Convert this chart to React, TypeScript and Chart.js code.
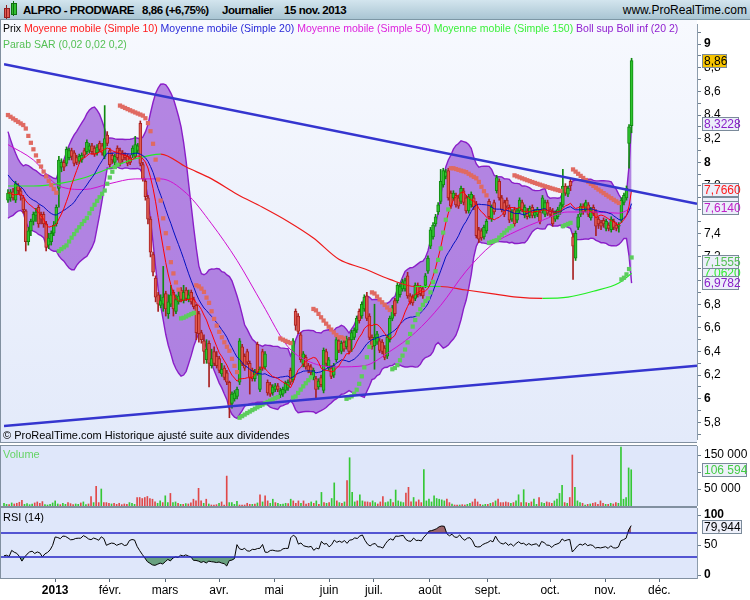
import React, { useEffect, useRef } from "react";
import { Chart, registerables } from "chart.js";

Chart.register(...registerables);

// ALPRO - PRODWARE, daily bars from early December 2012 to 15 Nov 2013
const opens = [
  7.68, 7.70, 7.75, 7.68, 7.80, 7.76, 7.70, 7.59, 7.33, 7.42,
  7.50, 7.55, 7.62, 7.56, 7.56, 7.48, 7.30, 7.33, 7.40, 7.48,
  7.78, 7.96, 8.00, 7.99, 8.04, 8.10, 8.08, 8.04, 8.01, 8.02,
  8.10, 8.09, 8.10, 8.14, 8.12, 8.08, 8.16, 8.14, 8.05, 8.23,
  8.10, 8.06, 8.00, 8.12, 8.10, 8.08, 8.06, 8.05, 8.04, 8.06,
  8.05, 8.10, 8.33, 7.98, 7.84, 7.70, 7.52, 7.22, 7.02, 6.88,
  6.79, 6.80, 6.89, 6.72, 6.80, 6.90, 6.74, 6.82, 6.92, 6.83,
  6.92, 6.84, 6.90, 6.84, 6.79, 6.72, 6.56, 6.49, 6.33, 6.47,
  6.28, 6.40, 6.36, 6.34, 6.21, 6.26, 6.22, 6.14, 5.96, 6.00,
  6.02, 6.14, 6.44, 6.36, 6.40, 6.30, 6.24, 6.17, 6.46, 6.08,
  6.40, 6.27, 6.14, 6.12, 6.05, 6.08, 6.11, 6.03, 6.04, 6.07,
  6.09, 6.24, 6.16, 6.74, 6.70, 6.54, 6.29, 6.35, 6.28, 6.27,
  6.18, 6.17, 6.10, 6.18, 6.07, 6.40, 6.26, 6.26, 6.20, 6.33,
  6.49, 6.40, 6.48, 6.44, 6.50, 6.50, 6.52, 6.58, 6.74, 6.70,
  6.76, 6.87, 6.70, 6.52, 6.45, 6.48, 6.49, 6.48, 6.43, 6.36,
  6.50, 6.68, 6.83, 6.83, 6.88, 6.93, 6.93, 7.04, 6.87, 6.86,
  6.85, 6.96, 6.94, 6.93, 6.96, 7.08, 7.29, 7.37, 7.48, 7.58,
  7.67, 7.81, 7.88, 7.93, 7.74, 7.70, 7.72, 7.70, 7.67, 7.76,
  7.70, 7.59, 7.64, 7.70, 7.65, 7.43, 7.42, 7.37, 7.42, 7.67,
  7.52, 7.66, 7.76, 7.84, 7.70, 7.66, 7.68, 7.62, 7.52, 7.60,
  7.51, 7.59, 7.66, 7.55, 7.59, 7.55, 7.62, 7.55, 7.56, 7.58,
  7.59, 7.56, 7.66, 7.60, 7.59, 7.52, 7.54, 7.58, 7.64, 7.80,
  7.73, 7.84, 7.37, 7.19, 7.45, 7.56, 7.63, 7.60, 7.64, 7.53,
  7.62, 7.58, 7.52, 7.49, 7.51, 7.44, 7.47, 7.43, 7.50, 7.47,
  7.46, 7.51, 7.66, 7.70, 8.16, 8.31,
];
const highs = [
  7.77, 7.77, 7.78, 7.84, 7.82, 7.78, 7.72, 7.60, 7.45, 7.52,
  7.58, 7.61, 7.64, 7.58, 7.58, 7.50, 7.40, 7.42, 7.50, 7.64,
  8.05, 8.03, 8.02, 8.13, 8.12, 8.12, 8.10, 8.06, 8.07, 8.08,
  8.12, 8.19, 8.16, 8.16, 8.14, 8.15, 8.18, 8.16, 8.48, 8.26,
  8.12, 8.08, 8.07, 8.14, 8.12, 8.10, 8.08, 8.07, 8.06, 8.14,
  8.22, 8.16, 8.35, 8.00, 7.86, 7.72, 7.54, 7.24, 7.04, 6.90,
  6.88, 7.12, 6.91, 6.88, 6.96, 6.92, 6.88, 6.92, 6.94, 6.96,
  6.94, 6.92, 6.92, 6.86, 6.80, 6.74, 6.58, 6.54, 6.50, 6.49,
  6.42, 6.44, 6.40, 6.36, 6.30, 6.28, 6.24, 6.15, 6.06, 6.07,
  6.10, 6.51, 6.46, 6.38, 6.42, 6.32, 6.26, 6.25, 6.48, 6.27,
  6.42, 6.40, 6.16, 6.14, 6.12, 6.13, 6.13, 6.09, 6.10, 6.15,
  6.16, 6.26, 6.51, 6.76, 6.72, 6.56, 6.40, 6.37, 6.30, 6.29,
  6.26, 6.19, 6.17, 6.20, 6.43, 6.42, 6.35, 6.28, 6.30, 6.52,
  6.51, 6.49, 6.50, 6.53, 6.52, 6.58, 6.60, 6.70, 6.76, 6.82,
  6.88, 6.90, 6.72, 6.54, 6.80, 6.57, 6.51, 6.50, 6.45, 6.54,
  6.70, 6.79, 6.85, 6.98, 6.97, 7.01, 7.02, 7.07, 6.89, 6.88,
  6.98, 6.98, 6.96, 6.95, 7.06, 7.21, 7.45, 7.49, 7.56, 7.66,
  7.94, 7.95, 7.94, 7.95, 7.76, 7.76, 7.74, 7.72, 7.80, 7.78,
  7.72, 7.73, 7.75, 7.72, 7.67, 7.45, 7.44, 7.47, 7.52, 7.69,
  7.64, 7.68, 7.89, 7.86, 7.72, 7.68, 7.70, 7.64, 7.60, 7.62,
  7.61, 7.70, 7.68, 7.64, 7.61, 7.63, 7.64, 7.60, 7.62, 7.60,
  7.72, 7.68, 7.68, 7.62, 7.61, 7.59, 7.62, 7.66, 7.94, 7.82,
  7.80, 7.86, 7.40, 7.42, 7.56, 7.65, 7.65, 7.68, 7.66, 7.62,
  7.64, 7.60, 7.54, 7.51, 7.53, 7.52, 7.49, 7.54, 7.52, 7.49,
  7.49, 7.70, 7.74, 7.80, 8.32, 8.88,
];
const lows = [
  7.66, 7.67, 7.68, 7.66, 7.73, 7.68, 7.57, 7.25, 7.30, 7.38,
  7.47, 7.50, 7.45, 7.48, 7.45, 7.25, 7.27, 7.30, 7.38, 7.46,
  7.62, 7.92, 7.93, 7.97, 8.02, 8.02, 7.97, 7.98, 7.99, 8.00,
  8.04, 8.07, 8.08, 8.07, 8.05, 8.06, 8.09, 8.06, 8.03, 8.14,
  7.96, 7.99, 7.98, 8.02, 7.97, 8.00, 8.02, 7.97, 7.98, 8.04,
  8.03, 8.08, 7.97, 7.84, 7.68, 7.48, 7.20, 7.04, 6.82, 6.74,
  6.77, 6.74, 6.70, 6.68, 6.78, 6.70, 6.72, 6.80, 6.82, 6.81,
  6.83, 6.82, 6.80, 6.76, 6.50, 6.48, 6.47, 6.30, 6.30, 6.10,
  6.26, 6.28, 6.26, 6.22, 6.19, 6.16, 6.12, 5.84, 5.92, 5.98,
  6.00, 6.12, 6.28, 6.24, 6.29, 6.04, 6.15, 6.15, 6.20, 6.06,
  6.24, 6.25, 6.03, 6.02, 6.03, 6.06, 6.06, 6.01, 6.02, 6.05,
  6.07, 6.12, 6.14, 6.58, 6.55, 6.31, 6.27, 6.25, 6.22, 6.20,
  6.16, 6.00, 6.08, 6.10, 6.05, 6.28, 6.24, 6.17, 6.18, 6.31,
  6.39, 6.38, 6.40, 6.42, 6.38, 6.40, 6.50, 6.56, 6.64, 6.68,
  6.74, 6.66, 6.50, 6.42, 6.25, 6.46, 6.39, 6.38, 6.33, 6.34,
  6.48, 6.66, 6.70, 6.81, 6.86, 6.91, 6.91, 6.85, 6.80, 6.79,
  6.83, 6.86, 6.87, 6.85, 6.94, 7.06, 7.27, 7.35, 7.46, 7.56,
  7.65, 7.79, 7.86, 7.68, 7.61, 7.68, 7.62, 7.61, 7.65, 7.64,
  7.57, 7.57, 7.62, 7.60, 7.36, 7.32, 7.34, 7.35, 7.40, 7.52,
  7.50, 7.56, 7.74, 7.68, 7.58, 7.54, 7.61, 7.49, 7.50, 7.46,
  7.49, 7.57, 7.58, 7.53, 7.52, 7.53, 7.53, 7.53, 7.54, 7.48,
  7.57, 7.54, 7.55, 7.54, 7.46, 7.50, 7.52, 7.56, 7.62, 7.72,
  7.71, 7.76, 7.01, 7.17, 7.43, 7.54, 7.56, 7.58, 7.54, 7.51,
  7.55, 7.38, 7.44, 7.43, 7.45, 7.42, 7.42, 7.41, 7.43, 7.42,
  7.41, 7.49, 7.64, 7.68, 7.95, 8.25,
];
const closes = [
  7.74, 7.75, 7.70, 7.82, 7.76, 7.72, 7.60, 7.33, 7.42, 7.50,
  7.56, 7.58, 7.48, 7.52, 7.48, 7.28, 7.36, 7.40, 7.47, 7.62,
  8.02, 8.00, 7.96, 8.11, 8.10, 8.05, 7.99, 8.00, 8.05, 8.06,
  8.06, 8.17, 8.14, 8.09, 8.07, 8.13, 8.11, 8.08, 8.20, 8.16,
  7.98, 8.02, 8.05, 8.04, 7.99, 8.02, 8.04, 7.99, 8.00, 8.12,
  8.15, 8.14, 7.99, 7.86, 7.71, 7.52, 7.24, 7.07, 6.86, 6.80,
  6.83, 6.86, 6.76, 6.82, 6.88, 6.76, 6.84, 6.87, 6.84, 6.90,
  6.85, 6.88, 6.82, 6.78, 6.56, 6.55, 6.50, 6.40, 6.42, 6.30,
  6.34, 6.30, 6.28, 6.24, 6.25, 6.18, 6.14, 5.93, 6.04, 6.05,
  6.08, 6.49, 6.30, 6.26, 6.31, 6.18, 6.17, 6.23, 6.22, 6.25,
  6.26, 6.38, 6.05, 6.04, 6.10, 6.11, 6.08, 6.07, 6.08, 6.13,
  6.14, 6.14, 6.49, 6.62, 6.57, 6.33, 6.38, 6.27, 6.24, 6.22,
  6.24, 6.08, 6.15, 6.12, 6.41, 6.30, 6.33, 6.19, 6.28, 6.50,
  6.41, 6.47, 6.42, 6.51, 6.40, 6.56, 6.58, 6.68, 6.66, 6.80,
  6.86, 6.68, 6.52, 6.44, 6.52, 6.55, 6.41, 6.40, 6.35, 6.52,
  6.68, 6.77, 6.72, 6.96, 6.95, 6.99, 7.00, 6.87, 6.82, 6.81,
  6.96, 6.88, 6.89, 6.87, 7.04, 7.19, 7.43, 7.47, 7.54, 7.64,
  7.84, 7.93, 7.92, 7.70, 7.63, 7.74, 7.64, 7.63, 7.78, 7.66,
  7.59, 7.71, 7.73, 7.62, 7.38, 7.35, 7.36, 7.45, 7.50, 7.54,
  7.62, 7.58, 7.87, 7.70, 7.60, 7.56, 7.63, 7.51, 7.58, 7.48,
  7.59, 7.68, 7.60, 7.62, 7.54, 7.61, 7.55, 7.58, 7.60, 7.50,
  7.70, 7.66, 7.57, 7.56, 7.48, 7.57, 7.60, 7.64, 7.80, 7.74,
  7.78, 7.80, 7.29, 7.40, 7.54, 7.63, 7.58, 7.66, 7.56, 7.60,
  7.57, 7.46, 7.48, 7.46, 7.48, 7.50, 7.44, 7.52, 7.45, 7.44,
  7.47, 7.68, 7.72, 7.78, 8.30, 8.86,
];
const volumes = [
  8000, 5000, 4000, 9000, 6000, 8000, 11000, 17000, 5000, 7000,
  4000, 6000, 9000, 12000, 8000, 13000, 4000, 3000, 5000, 9000,
  15000, 6000, 4000, 8000, 5000, 10000, 7000, 4000, 6000, 5000,
  9000, 12000, 4000, 6000, 28000, 10000, 58000, 10000, 50000, 10000,
  10000, 8000, 6000, 8000, 5000, 8000, 4000, 6000, 5000, 10000,
  8000, 5000, 25000, 25000, 22000, 25000, 28000, 22000, 20000, 12000,
  8000, 15000, 10000, 30000, 10000, 37000, 10000, 12000, 8000, 5000,
  5000, 7000, 6000, 9000, 20000, 15000, 52000, 15000, 8000, 20000,
  6000, 3000, 3000, 4000, 8000, 12000, 3000, 88000, 10000, 10000,
  5000, 14000, 3000, 3000, 3000, 8000, 5000, 5000, 6000, 9000,
  33000, 12000, 30000, 15000, 8000, 20000, 10000, 8000, 5000, 6000,
  8000, 7000, 20000, 15000, 8000, 15000, 8000, 15000, 6000, 8000,
  12000, 8000, 15000, 5000, 40000, 10000, 8000, 10000, 22000, 68000,
  15000, 10000, 8000, 12000, 75000, 142000, 40000, 12000, 15000, 33000,
  15000, 12000, 12000, 10000, 15000, 10000, 6000, 12000, 28000, 10000,
  12000, 20000, 10000, 47000, 15000, 12000, 10000, 38000, 55000, 12000,
  25000, 12000, 18000, 10000, 107000, 15000, 20000, 12000, 30000, 22000,
  20000, 18000, 15000, 20000, 10000, 6000, 3000, 3000, 3000, 4000,
  3000, 5000, 8000, 12000, 20000, 12000, 5000, 3000, 5000, 5000,
  8000, 10000, 15000, 20000, 10000, 10000, 12000, 10000, 8000, 10000,
  15000, 33000, 10000, 48000, 10000, 8000, 12000, 20000, 5000, 25000,
  10000, 8000, 12000, 10000, 8000, 15000, 20000, 37000, 61000, 10000,
  8000, 25000, 150000, 55000, 15000, 10000, 8000, 3000, 5000, 6000,
  8000, 10000, 5000, 15000, 8000, 5000, 5000, 8000, 6000, 10000,
  8000, 173000, 20000, 25000, 112000, 106594,
];
// closes of the sessions preceding the first bar, used to seed SMA 10/20, Bollinger and RSI
const priorCloses = [
  8.20, 8.28, 8.22, 8.15, 8.10, 8.02, 7.98, 8.04, 7.94, 7.88,
  7.84, 7.78, 7.84, 7.80, 7.74, 7.70, 7.76, 7.72, 7.68, 7.66,
];

// long moving averages, sampled every ten sessions
const longMaIndex = [0, 10, 20, 30, 40, 50, 60, 70, 80, 90, 100, 110, 120, 130, 140, 150, 160, 170, 180, 190, 200, 210, 220, 230, 240, 245];
const sma50 = [8.15, 8.02, 7.80, 7.77, 7.82, 7.86, 7.86, 7.74, 7.48, 7.17, 6.80, 6.44, 6.30, 6.27, 6.28, 6.40, 6.56, 6.79, 7.08, 7.30, 7.42, 7.51, 7.58, 7.58, 7.57, 7.614];
const sma150 = [7.80, 7.80, 7.82, 7.87, 7.95, 8.03, 8.07, 7.96, 7.86, 7.73, 7.62, 7.50, 7.36, 7.18, 7.10, 7.01, 6.95, 6.95, 6.92, 6.89, 6.86, 6.85, 6.86, 6.91, 6.98, 7.062];

// parabolic SAR starting level (falling trend at the first bar)
const sarSeed = 8.4;

// hand-drawn trend lines: price at the left and right edges of the plot
const trendTop = [8.83, 7.65];
const trendBottom = [5.77, 6.28];

// month ticks (session index) and labels
const monthTickIndex = [20, 41.4, 62.9, 84, 105.5, 127, 144.5, 166.4, 189, 213.3, 234.8, 256];
const monthTickLabels = ["2013", "févr.", "mars", "avr.", "mai", "juin", "juil.", "août", "sept.", "oct.", "nov.", "déc."];

// last values shown in the axis tags
const lastBollUp = 8.3228;
const lastSma10 = 7.766;
const lastSma20 = 7.6505;
const lastSma50 = 7.614;
const lastSar = 7.1555;
const lastSma150 = 7.062;
const lastBollDown = 6.9782;
const lastRsi = 79.944;

const FONT = '"Liberation Sans", Arial, Helvetica, sans-serif';
const X_MIN = -1.56;
const X_MAX = 270.7;
const AXIS_W = 53;

const fr = (v: number, d: number) => v.toFixed(d).replace(".", ",");
const spaced = (v: number) => String(Math.round(v)).replace(/\B(?=(\d{3})+(?!\d))/g, " ");

const idx = closes.map((_, i) => i);
const allCloses = [...priorCloses, ...closes];
const P = priorCloses.length;

function sma(n: number) {
  return idx.map((i) => {
    let s = 0;
    for (let k = i + P - n + 1; k <= i + P; k++) s += allCloses[k];
    return s / n;
  });
}
const sma10 = sma(10);
const sma20 = sma(20);
const bollDev = idx.map((i) => {
  const m = sma20[i];
  let v = 0;
  for (let k = i + P - 19; k <= i + P; k++) v += (allCloses[k] - m) ** 2;
  return Math.sqrt(v / 20);
});
const bollUp = idx.map((i) => sma20[i] + 2 * bollDev[i]);
const bollDown = idx.map((i) => sma20[i] - 2 * bollDev[i]);

function wilderRsi(period: number) {
  const out: number[] = new Array(allCloses.length).fill(NaN);
  let g = 0;
  let l = 0;
  for (let k = 1; k <= period; k++) {
    const d = allCloses[k] - allCloses[k - 1];
    if (d > 0) g += d; else l -= d;
  }
  g /= period;
  l /= period;
  out[period] = 100 - 100 / (1 + g / (l || 1e-9));
  for (let k = period + 1; k < allCloses.length; k++) {
    const d = allCloses[k] - allCloses[k - 1];
    g = (g * (period - 1) + Math.max(d, 0)) / period;
    l = (l * (period - 1) + Math.max(-d, 0)) / period;
    out[k] = 100 - 100 / (1 + g / (l || 1e-9));
  }
  return idx.map((i) => out[i + P]);
}
const rsi14 = wilderRsi(14);

function parabolicSar(start: number, step: number, maxAf: number) {
  const out: { v: number; up: boolean }[] = [];
  let up = false;
  let sar = sarSeed;
  let ep = lows[0];
  let af = start;
  out.push({ v: sar, up });
  for (let i = 1; i < closes.length; i++) {
    sar = sar + af * (ep - sar);
    if (up) {
      sar = Math.min(sar, lows[i - 1], lows[Math.max(0, i - 2)]);
      if (lows[i] < sar) {
        up = false; sar = ep; ep = lows[i]; af = start;
      } else if (highs[i] > ep) {
        ep = highs[i]; af = Math.min(af + step, maxAf);
      }
    } else {
      sar = Math.max(sar, highs[i - 1], highs[Math.max(0, i - 2)]);
      if (highs[i] > sar) {
        up = true; sar = ep; ep = highs[i]; af = start;
      } else if (lows[i] < ep) {
        ep = lows[i]; af = Math.min(af + step, maxAf);
      }
    }
    out.push({ v: sar, up });
  }
  return out;
}
const sar = parabolicSar(0.02, 0.02, 0.2);

const rising = idx.map((i) => closes[i] >= opens[i]);
const GREEN_BODY = "#2fc42f";
const GREEN_EDGE = "#108a10";
const RED_BODY = "#e05a50";
const RED_EDGE = "#a82020";

type Tag = { value: number; text: string; color: string; bg: string; w: number };

function tagPlugin(tags: Tag[]) {
  return {
    id: "tags",
    afterDraw(chart: any) {
      const ctx = chart.ctx as CanvasRenderingContext2D;
      const ys = chart.scales.y;
      const x0 = chart.chartArea.right + 5;
      ctx.save();
      ctx.font = `12px ${FONT}`;
      ctx.textBaseline = "middle";
      for (const t of tags) {
        const py = Math.round(ys.getPixelForValue(t.value));
        ctx.fillStyle = t.bg;
        ctx.fillRect(x0, py - 7, t.w, 14);
        ctx.strokeStyle = "#7a8a9a";
        ctx.lineWidth = 1;
        ctx.strokeRect(x0 + 0.5, py - 6.5, t.w - 1, 13);
        if (t.text) {
          ctx.fillStyle = t.color;
          ctx.fillText(t.text, x0 + 2, py + 1);
        }
      }
      ctx.restore();
    },
  };
}

const pinY = (s: any) => {
  s.width = AXIS_W;
  s.paddingTop = 0;
  s.paddingBottom = 0;
};

const baseOptions = {
  animation: false as const,
  responsive: false,
  maintainAspectRatio: false,
  devicePixelRatio: 1,
  layout: { padding: 0 },
  plugins: { legend: { display: false }, tooltip: { enabled: false } },
  events: [] as any[],
};

function lineSet(data: { x: number; y: number }[], color: string, width: number, order: number, extra: any = {}) {
  return {
    type: "line" as const,
    data,
    borderColor: color,
    borderWidth: width,
    pointRadius: 0,
    fill: false,
    order,
    ...extra,
  };
}

function makeMain(canvas: HTMLCanvasElement) {
  const pts = (arr: number[]) => idx.map((i) => ({ x: i, y: arr[i] }));
  const sparse = (arr: number[]) => longMaIndex.map((i, k) => ({ x: i, y: arr[k] }));
  const tags: Tag[] = [
    { value: lastSma20, text: "", color: "#2020c0", bg: "#eceefa", w: 37 },
    { value: lastBollUp, text: fr(lastBollUp, 4), color: "#8a20c8", bg: "#eceefa", w: 37 },
    { value: lastSma10, text: fr(lastSma10, 4), color: "#ff1a1a", bg: "#eceefa", w: 37 },
    { value: lastSma50, text: fr(lastSma50, 4), color: "#c020c8", bg: "#eceefa", w: 37 },
    { value: lastSma150, text: fr(lastSma150, 4), color: "#33ee33", bg: "#eceefa", w: 37 },
    { value: lastSar, text: fr(lastSar, 4), color: "#55c055", bg: "#eceefa", w: 37 },
    { value: lastBollDown, text: fr(lastBollDown, 4), color: "#8a20c8", bg: "#eceefa", w: 37 },
    { value: closes[closes.length - 1], text: fr(closes[closes.length - 1], 2), color: "#000", bg: "#f6c400", w: 25 },
  ];
  return new Chart(canvas, {
    type: "bar",
    data: {
      datasets: [
        lineSet([{ x: X_MIN, y: trendTop[0] }, { x: X_MAX, y: trendTop[1] }], "#3535cf", 2.6, 0),
        lineSet([{ x: X_MIN, y: trendBottom[0] }, { x: X_MAX, y: trendBottom[1] }], "#3535cf", 2.6, 0),
        {
          type: "line",
          data: idx.map((i) => ({ x: i, y: sar[i].v })),
          showLine: false,
          pointStyle: "rect",
          pointRadius: 3,
          pointBorderWidth: 0,
          pointBackgroundColor: idx.map((i) => (sar[i].up ? "#5ccc5c" : "#e06a62")),
          order: 1,
        },
        lineSet(pts(sma10), "#ff0000", 1, 2),
        lineSet(pts(sma20), "#0010c0", 1, 3),
        lineSet(sparse(sma50), "#d010d0", 1, 4, { cubicInterpolationMode: "monotone" }),
        lineSet(sparse(sma150), "#22ee22", 1.2, 5, {
          cubicInterpolationMode: "monotone",
          segment: { borderColor: (c: any) => (c.p1.parsed.y >= c.p0.parsed.y ? "#22ee22" : "#ee1a1a") },
        }),
        {
          type: "bar",
          data: idx.map((i) => ({ x: i, y: [Math.min(opens[i], closes[i]), Math.max(opens[i], closes[i])] })),
          backgroundColor: idx.map((i) => (rising[i] ? GREEN_BODY : RED_BODY)),
          borderColor: idx.map((i) => (rising[i] ? GREEN_EDGE : RED_EDGE)),
          borderWidth: 1,
          borderSkipped: false,
          barThickness: 3,
          grouped: false,
          order: 6,
        },
        {
          type: "bar",
          data: idx.map((i) => ({ x: i, y: [lows[i], highs[i]] })),
          backgroundColor: idx.map((i) => (rising[i] ? GREEN_EDGE : RED_EDGE)),
          barThickness: 1,
          grouped: false,
          order: 7,
        },
        lineSet(pts(bollUp), "#8a1ec8", 1.4, 9, { fill: { target: 10 }, backgroundColor: "rgba(130,45,205,0.56)" }),
        lineSet(pts(bollDown), "#8a1ec8", 1.4, 8),
      ] as any,
    },
    options: {
      ...baseOptions,
      scales: {
        x: { type: "linear", min: X_MIN, max: X_MAX, display: false, offset: false },
        y: {
          position: "right",
          min: 5.66,
          max: 9.17,
          afterFit: pinY,
          afterBuildTicks: (s: any) => {
            const t = [];
            for (let k = 57; k <= 91; k++) t.push({ value: k / 10 });
            s.ticks = t;
          },
          ticks: {
            autoSkip: false,
            padding: 3,
            color: "#000",
            font: (ctx: any) => {
              const v = ctx.tick ? Math.round(ctx.tick.value * 10) : 1;
              return { family: FONT, size: 12, weight: v % 10 === 0 ? "bold" : "normal" };
            },
            callback: (v: any) => {
              const k = Math.round(Number(v) * 10);
              if (k % 2 !== 0) return "";
              return k % 10 === 0 ? String(k / 10) : fr(k / 10, 1);
            },
          },
          grid: { drawOnChartArea: false, tickLength: 4, color: "#6f7f8f" },
          border: { color: "#8c9cac" },
        },
      },
    } as any,
    plugins: [tagPlugin(tags)],
  });
}

function makeVolume(canvas: HTMLCanvasElement) {
  const last = volumes[volumes.length - 1];
  return new Chart(canvas, {
    type: "bar",
    data: {
      datasets: [
        {
          data: idx.map((i) => ({ x: i, y: volumes[i] })),
          backgroundColor: idx.map((i) => (rising[i] ? "#35c835" : "#e04848")),
          barThickness: 1,
          grouped: false,
        },
      ] as any,
    },
    options: {
      ...baseOptions,
      scales: {
        x: { type: "linear", min: X_MIN, max: X_MAX, display: false, offset: false },
        y: {
          position: "right",
          min: 0,
          max: 176500,
          afterFit: pinY,
          afterBuildTicks: (s: any) => {
            s.ticks = [50000, 100000, 150000].map((value) => ({ value }));
          },
          ticks: { autoSkip: false, padding: 3, color: "#000", font: { family: FONT, size: 12 }, callback: (v: any) => spaced(Number(v)) },
          grid: { drawOnChartArea: false, tickLength: 4, color: "#6f7f8f" },
          border: { color: "#8c9cac" },
        },
      },
    } as any,
    plugins: [tagPlugin([{ value: last, text: spaced(last), color: "#44cc44", bg: "#eef0fa", w: 45 }])],
  });
}

function makeRsi(canvas: HTMLCanvasElement) {
  const pts = idx.map((i) => ({ x: i, y: rsi14[i] }));
  return new Chart(canvas, {
    type: "line",
    data: {
      datasets: [
        lineSet([{ x: X_MIN, y: 70 }, { x: X_MAX, y: 70 }], "#2424c4", 1.3, 0),
        lineSet([{ x: X_MIN, y: 30 }, { x: X_MAX, y: 30 }], "#2424c4", 1.3, 0),
        lineSet(pts, "#000", 1, 1, { fill: { target: { value: 70 }, above: "rgba(135,60,60,0.75)", below: "rgba(0,0,0,0)" } }),
        lineSet(pts, "rgba(0,0,0,0)", 0, 2, { fill: { target: { value: 30 }, above: "rgba(0,0,0,0)", below: "rgba(60,135,80,0.72)" } }),
      ] as any,
    },
    options: {
      ...baseOptions,
      scales: {
        x: {
          type: "linear",
          min: X_MIN,
          max: X_MAX,
          offset: false,
          afterFit: (s: any) => {
            s.height = 22;
            s.paddingLeft = 0;
            s.paddingRight = 0;
          },
          afterBuildTicks: (s: any) => {
            s.ticks = monthTickIndex.map((value) => ({ value }));
          },
          ticks: {
            autoSkip: false,
            maxRotation: 0,
            padding: 1,
            color: "#000",
            font: (ctx: any) => ({ family: FONT, size: 12, weight: ctx.index === 0 ? "bold" : "normal" }),
            callback: (_v: any, i: number) => monthTickLabels[i],
          },
          grid: { drawOnChartArea: false, tickLength: 4, color: "#58687a" },
          border: { color: "#8c9cac" },
        },
        y: {
          position: "right",
          min: -5,
          max: 111.7,
          afterFit: pinY,
          afterBuildTicks: (s: any) => {
            s.ticks = [0, 50, 100].map((value) => ({ value }));
          },
          ticks: {
            autoSkip: false,
            padding: 3,
            color: "#000",
            font: (ctx: any) => ({ family: FONT, size: 12, weight: ctx.tick && ctx.tick.value !== 50 ? "bold" : "normal" }),
          },
          grid: { drawOnChartArea: false, tickLength: 4, color: "#6f7f8f" },
          border: { color: "#8c9cac" },
        },
      },
    } as any,
    plugins: [tagPlugin([{ value: lastRsi, text: fr(lastRsi, 3), color: "#000", bg: "#eef0fa", w: 40 }])],
  });
}

const abs = (left: number, top: number, width: number, height: number, extra: React.CSSProperties = {}): React.CSSProperties => ({
  position: "absolute",
  left,
  top,
  width,
  height,
  ...extra,
});

const titleText: React.CSSProperties = { fontWeight: "bold", fontSize: 11.5, letterSpacing: -0.45, whiteSpace: "pre", lineHeight: "14px" };

export default function App() {
  const mainRef = useRef<HTMLCanvasElement>(null);
  const volRef = useRef<HTMLCanvasElement>(null);
  const rsiRef = useRef<HTMLCanvasElement>(null);

  useEffect(() => {
    Chart.defaults.font.family = FONT;
    const charts = [makeMain(mainRef.current!), makeVolume(volRef.current!), makeRsi(rsiRef.current!)];
    return () => charts.forEach((c) => c.destroy());
  }, []);

  const legend: [string, string][] = [
    ["Prix", "#000"],
    ["Moyenne mobile (Simple 10)", "#ff1a1a"],
    ["Moyenne mobile (Simple 20)", "#2a2ad8"],
    ["Moyenne mobile (Simple 50)", "#dd22dd"],
    ["Moyenne mobile (Simple 150)", "#3cf03c"],
    ["Boll sup Boll inf (20 2)", "#9020d0"],
  ];

  return (
    <div style={abs(0, 0, 750, 600, { position: "fixed", background: "#fff", overflow: "hidden", fontFamily: FONT })}>
      {/* title bar */}
      <div style={abs(0, 0, 750, 19, { background: "linear-gradient(#d3e5ee, #a9c5d3)", borderBottom: "1px solid #7d97a5" })}>
        <div style={abs(4, 8, 4, 8, { background: "#e05a50", border: "1px solid #902020" })} />
        <div style={abs(6, 5, 1, 14, { background: "#902020" })} />
        <div style={abs(11, 3, 4, 10, { background: "#30c030", border: "1px solid #107010" })} />
        <div style={abs(13, 1, 1, 15, { background: "#107010" })} />
        <span style={abs(23, 3, 120, 14, titleText)}>ALPRO - PRODWARE</span>
        <span style={abs(142, 3, 80, 14, titleText)}>8,86 (+6,75%)</span>
        <span style={abs(222, 3, 60, 14, titleText)}>Journalier</span>
        <span style={abs(284, 3, 80, 14, titleText)}>15 nov. 2013</span>
        <span style={abs(560, 3, 187, 14, { fontSize: 12, textAlign: "right", lineHeight: "14px" })}>www.ProRealTime.com</span>
      </div>

      {/* price panel */}
      <div style={abs(0, 20, 697, 423, { background: "linear-gradient(#f7f9fe, #e3eafa)" })} />
      <canvas ref={mainRef} width={750} height={423} style={abs(0, 20, 750, 423)} />
      <div style={abs(0, 20, 697, 423, { borderLeft: "1px solid #8190a0", borderBottom: "1px solid #8190a0", boxSizing: "border-box", pointerEvents: "none" })} />
      <div style={abs(3, 21, 690, 14, { fontSize: 10.5, lineHeight: "14px", whiteSpace: "nowrap" })}>
        {legend.map(([t, c], k) => (
          <span key={k} style={{ color: c }}>{(k ? " " : "") + t}</span>
        ))}
      </div>
      <div style={abs(3, 37, 300, 14, { fontSize: 10.5, lineHeight: "14px", color: "#55c055" })}>Parab SAR (0,02 0,02 0,2)</div>
      <div style={abs(3, 428, 400, 14, { fontSize: 11, lineHeight: "14px", color: "#000" })}>© ProRealTime.com  Historique ajusté suite aux dividendes</div>

      {/* volume panel */}
      <div style={abs(0, 446, 697, 60, { background: "#dfe7fa" })} />
      <canvas ref={volRef} width={750} height={60} style={abs(0, 446, 750, 60)} />
      <div style={abs(0, 445, 697, 62, { border: "1px solid #8190a0", borderRight: "none", boxSizing: "border-box", pointerEvents: "none" })} />
      <div style={abs(3, 447, 100, 14, { fontSize: 11, lineHeight: "14px", color: "#66d466" })}>Volume</div>

      {/* RSI panel */}
      <div style={abs(0, 508, 697, 70, { background: "#dfe7fa" })} />
      <canvas ref={rsiRef} width={750} height={92} style={abs(0, 508, 750, 92)} />
      <div style={abs(0, 507, 697, 72, { border: "1px solid #8190a0", borderRight: "none", boxSizing: "border-box", pointerEvents: "none" })} />
      <div style={abs(3, 510, 100, 14, { fontSize: 11, lineHeight: "14px", color: "#000" })}>RSI (14)</div>
    </div>
  );
}
